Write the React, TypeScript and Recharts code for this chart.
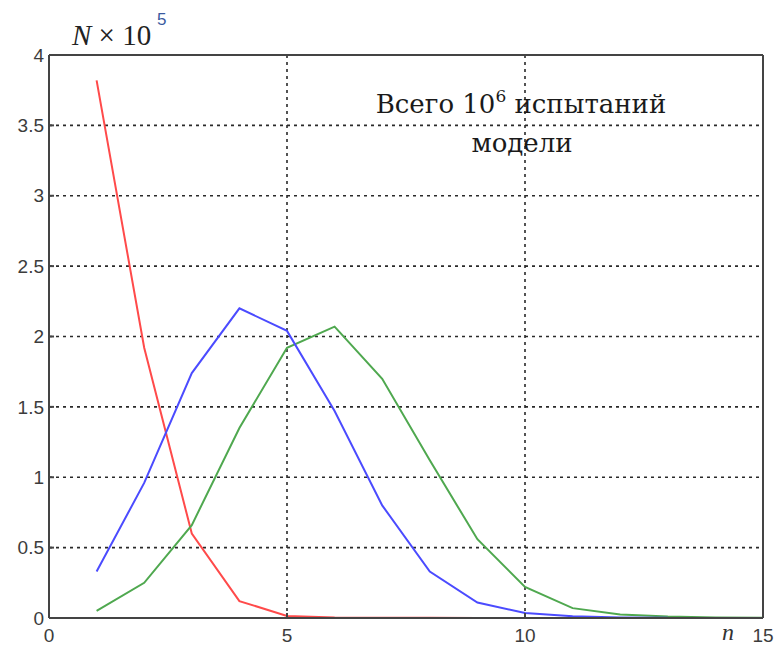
import React from 'react';
import { LineChart, Line, XAxis, YAxis, CartesianGrid, ReferenceLine, Customized } from 'recharts';

const nValues = [1, 2, 3, 4, 5, 6, 7, 8, 9, 10, 11, 12, 13, 14, 15];
const redSeries = [3.82, 1.92, 0.6, 0.12, 0.015, 0.004, 0.002, 0.001, 0, 0, 0, 0, 0, 0, 0];
const blueSeries = [0.33, 0.96, 1.74, 2.2, 2.04, 1.47, 0.8, 0.33, 0.11, 0.035, 0.012, 0.004, 0.001, null, null];
const greenSeries = [0.05, 0.25, 0.66, 1.35, 1.92, 2.07, 1.7, 1.12, 0.56, 0.22, 0.07, 0.025, 0.01, 0.004, 0.002];
const xTicks = [0, 5, 10, 15];
const yTicks = [0, 0.5, 1, 1.5, 2, 2.5, 3, 3.5, 4];

const data = nValues.map((n, i) => ({ n, red: redSeries[i], blue: blueSeries[i], green: greenSeries[i] }));

const tickStyle = { fontFamily: 'Liberation Sans, Arial, sans-serif', fontSize: 19, fill: '#3c3c3c' };

const Annotations = () => (
  <g>
    <text x={72} y={45} fontFamily="Liberation Serif, serif" fontSize={29} fill="#222">
      <tspan fontStyle="italic">N</tspan>
      <tspan> × 10</tspan>
    </text>
    <text x={157} y={25} fontFamily="Liberation Sans, sans-serif" fontSize={17} fill="#3a5aa0">5</text>
    <text x={521} y={113} textAnchor="middle" fontFamily="DejaVu Serif, serif" fontSize={26} fill="#1a1a1a">
      Всего 10<tspan dy={-11} fontSize={17}>6</tspan><tspan dy={11}> испытаний</tspan>
    </text>
    <text x={522} y={152} textAnchor="middle" fontFamily="DejaVu Serif, serif" fontSize={26} fill="#1a1a1a">модели</text>
    <text x={728} y={640} textAnchor="middle" fontFamily="Liberation Serif, serif" fontStyle="italic" fontSize={24} fill="#333">n</text>
  </g>
);

export default function App() {
  return (
    <div style={{ position: 'absolute', left: 0, top: 0, background: '#fff' }}>
      <LineChart width={776} height={647} data={data} margin={{ top: 55, right: 13, bottom: 4, left: 9 }}>
        <CartesianGrid yAxisId="left" stroke="#2a2a2a" strokeDasharray="3 4" strokeWidth={1.6} />
        <XAxis
          dataKey="n"
          type="number"
          domain={[0, 15]}
          ticks={xTicks}
          height={25}
          tickSize={-5}
          tickMargin={16}
          stroke="#444"
          strokeWidth={2}
          tick={tickStyle}
        />
        <YAxis
          yAxisId="left"
          type="number"
          domain={[0, 4]}
          ticks={yTicks}
          width={40}
          tickSize={-5}
          tickMargin={14}
          stroke="#444"
          strokeWidth={2}
          tick={{ ...tickStyle, dx: 4 }}
        />
        <YAxis
          yAxisId="right"
          orientation="right"
          type="number"
          domain={[0, 4]}
          ticks={yTicks}
          width={0}
          tickSize={-5}
          stroke="#444"
          strokeWidth={2}
          tick={false}
        />
        <ReferenceLine yAxisId="left" y={4} stroke="#444" strokeWidth={2} />
        <ReferenceLine yAxisId="left" x={15} stroke="#444" strokeWidth={2} />
        <Line yAxisId="left" dataKey="red" stroke="#ff4a4a" strokeWidth={2} dot={false} isAnimationActive={false} />
        <Line yAxisId="left" dataKey="green" stroke="#4fa84f" strokeWidth={2} dot={false} isAnimationActive={false} />
        <Line yAxisId="left" dataKey="blue" stroke="#4b4bff" strokeWidth={2} dot={false} isAnimationActive={false} />
        <Customized component={Annotations} />
      </LineChart>
    </div>
  );
}
